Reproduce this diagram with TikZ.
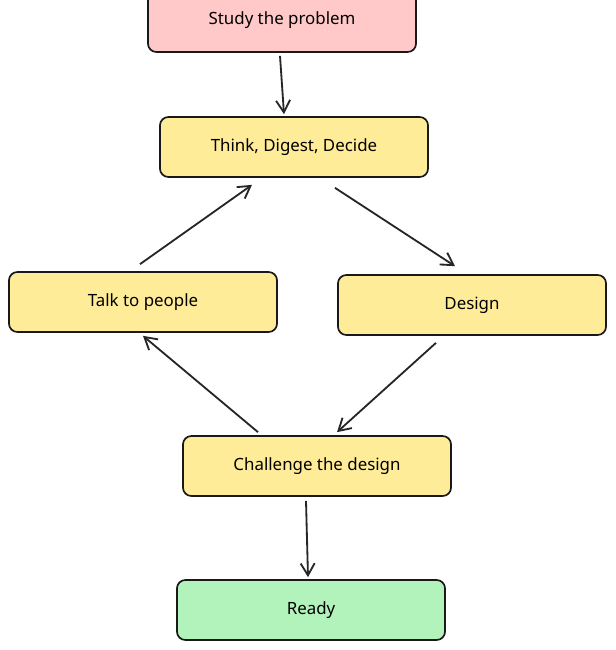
\documentclass[tikz,border=0pt]{standalone}
\usepackage{fontspec}
\setmainfont{Noto Sans}
\usetikzlibrary{positioning,calc,arrows.meta}
\definecolor{studypink}{HTML}{FFC9C9}
\definecolor{stepyellow}{HTML}{FFEC99}
\definecolor{readygreen}{HTML}{B2F2BB}
\tikzset{
	stepbox/.style={rectangle,rounded corners=6pt,draw=black!90,line width=1.2pt,minimum width=6.7cm,minimum height=1.5cm,font=\large},
	flow/.style={black!85,-{Straight Barb[length=3mm,width=3.5mm]},line width=1.3pt}
}
\begin{document}
\begin{tikzpicture}[x=0.025cm,y=-0.025cm]
	\useasboundingbox (0,0) rectangle (616,650);
	
	\node[stepbox,fill=studypink,minimum height=1.6cm] (study) at (282,20) {Study the problem};
	\node[stepbox,fill=stepyellow] (think) at (294,147) {Think, Digest, Decide};
	\node[stepbox,fill=stepyellow] (talk) at (143,302) {Talk to people};
	\node[stepbox,fill=stepyellow] (design) at (472,305) {Design};
	\node[stepbox,fill=stepyellow] (challenge) at (317,466) {Challenge the design};
	\node[stepbox,fill=readygreen] (ready) at (311,610) {Ready};
	
	\draw[flow] ($(study.south)+(-2,3)$) -- ($(think.north)+(-10,-2)$);
	\draw[flow] ($(think.south)+(41,10)$) -- ($(design.north)+(-17,-8)$);
	\draw[flow] ($(talk.north)+(-3,-7)$) -- ($(think.south)+(-42,7)$);
	\draw[flow] ($(design.south)+(-36,7)$) -- ($(challenge.north)+(20,-3)$);
	\draw[flow] ($(challenge.north)+(-59,-3)$) -- ($(talk.south)+(0,3)$);
	\draw[flow] ($(challenge.south)+(-11,4)$) -- ($(ready.north)+(-3,-2)$);
\end{tikzpicture}
\end{document}
